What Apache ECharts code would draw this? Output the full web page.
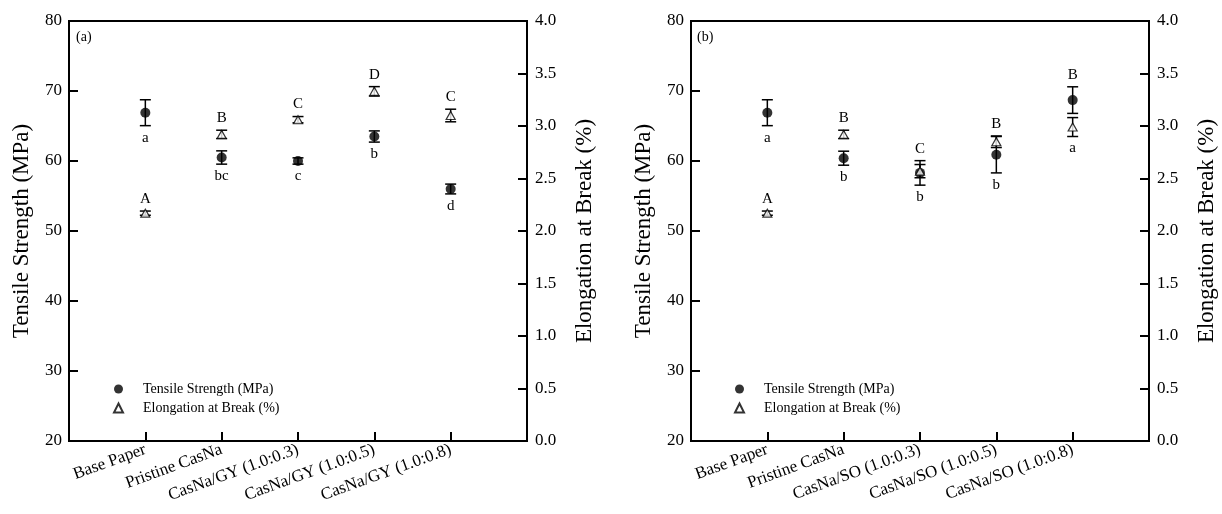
<!DOCTYPE html>
<html>
<head>
<meta charset="utf-8">
<script src="https://cdn.jsdelivr.net/npm/echarts@6/dist/echarts.min.js"></script>
<style>
  html, body { margin: 0; padding: 0; background: #fff; }
  #main { width: 1222px; height: 514px; }
</style>
</head>
<body>
<div id="main"></div>
<script>
// panel (a): guar gum
var categoriesA = ['Base Paper', 'Pristine CasNa', 'CasNa/GY (1.0:0.3)', 'CasNa/GY (1.0:0.5)', 'CasNa/GY (1.0:0.8)'];
var tsA = [66.9, 60.5, 60.0, 63.5, 56.0];
var tsErrA = [1.85, 0.95, 0.45, 0.8, 0.7];
var ebA = [2.17, 2.92, 3.06, 3.33, 3.10];
var ebErrA = [0.02, 0.04, 0.03, 0.045, 0.06];
var tsLetterA = ['a', 'bc', 'c', 'b', 'd'];
var ebLetterA = ['A', 'B', 'C', 'D', 'C'];

// panel (b): soy oil
var categoriesB = ['Base Paper', 'Pristine CasNa', 'CasNa/SO (1.0:0.3)', 'CasNa/SO (1.0:0.5)', 'CasNa/SO (1.0:0.8)'];
var tsB = [66.9, 60.4, 58.3, 60.9, 68.7];
var tsErrB = [1.85, 1.0, 1.75, 2.6, 1.9];
var ebB = [2.17, 2.92, 2.57, 2.85, 2.99];
var ebErrB = [0.02, 0.04, 0.063, 0.055, 0.09];
var tsLetterB = ['a', 'b', 'b', 'b', 'a'];
var ebLetterB = ['A', 'B', 'C', 'B', 'B'];

var TS_MIN = 20, TS_MAX = 80, EB_MIN = 0, EB_MAX = 4;
var FONT = '"Liberation Serif", "Times New Roman", serif';

var chart = echarts.init(document.getElementById('main'));

function pts(vals) {
  return vals.map(function (v, i) { return [i + 1, v]; });
}
function errPts(vals, errs) {
  return vals.map(function (v, i) { return [i + 1, v, errs[i]]; });
}

function errorBarItem(params, api) {
  var x = api.value(0), v = api.value(1), e = api.value(2);
  var hi = api.coord([x, v + e]);
  var lo = api.coord([x, v - e]);
  var w = 5.5;
  var st = { stroke: '#000', lineWidth: 1.5 };
  return {
    type: 'group',
    children: [
      { type: 'line', shape: { x1: hi[0], y1: hi[1], x2: lo[0], y2: lo[1] }, style: st },
      { type: 'line', shape: { x1: hi[0] - w, y1: hi[1], x2: hi[0] + w, y2: hi[1] }, style: st },
      { type: 'line', shape: { x1: lo[0] - w, y1: lo[1], x2: lo[0] + w, y2: lo[1] }, style: st }
    ]
  };
}

// elongation value expressed on the tensile axis, so both can be compared in pixels
function ebOnTs(eb) {
  return TS_MIN + (eb - EB_MIN) / (EB_MAX - EB_MIN) * (TS_MAX - TS_MIN);
}

function letterItem(tsLetters, ebLetters) {
  return function (params, api) {
    var i = params.dataIndex;
    var x = api.value(0);
    var tsTop = api.coord([x, api.value(1) + api.value(2)])[1];
    var tsBot = api.coord([x, api.value(1) - api.value(2)])[1];
    var ebTop = api.coord([x, ebOnTs(api.value(3) + api.value(4))])[1];
    var ebBot = api.coord([x, ebOnTs(api.value(3) - api.value(4))])[1];
    var px = api.coord([x, TS_MIN])[0];
    var upY, lowY;
    var gap = Math.max(ebTop - tsBot, tsTop - ebBot);
    if (gap >= 30) {
      upY = ebTop - 12;
      lowY = tsBot + 12;
    } else {
      upY = Math.min(tsTop, ebTop) - 12;
      lowY = Math.max(tsBot, ebBot) + 12;
    }
    var ts = { fill: '#000', font: '15px ' + FONT, textAlign: 'center', textVerticalAlign: 'middle' };
    return {
      type: 'group',
      children: [
        { type: 'text', x: px, y: upY, style: Object.assign({ text: ebLetters[i] }, ts) },
        { type: 'text', x: px, y: lowY, style: Object.assign({ text: tsLetters[i] }, ts) }
      ]
    };
  };
}

function letterData(ts, tsErr, eb, ebErr) {
  return ts.map(function (v, i) { return [i + 1, v, tsErr[i], eb[i], ebErr[i]]; });
}

var axisLine = { lineStyle: { color: '#000', width: 2 } };
var axisTick = { inside: true, length: 9, lineStyle: { color: '#000', width: 2 } };

function xAxisFor(grid, cats) {
  return {
    type: 'value', gridIndex: grid, min: 0, max: 6, interval: 1,
    axisLine: axisLine, axisTick: axisTick, splitLine: { show: false },
    axisLabel: {
      rotate: 20, margin: 8, color: '#000', fontFamily: FONT, fontSize: 17,
      formatter: function (v) { return cats[v - 1] || ''; }
    }
  };
}
function tsAxisFor(grid) {
  return {
    type: 'value', gridIndex: grid, position: 'left', min: TS_MIN, max: TS_MAX, interval: 10,
    name: 'Tensile Strength (MPa)', nameLocation: 'middle', nameRotate: 90, nameGap: 36,
    nameTextStyle: { color: '#000', fontFamily: FONT, fontSize: 23 },
    axisLine: Object.assign({ show: true }, axisLine), axisTick: axisTick, splitLine: { show: false },
    axisLabel: { color: '#000', fontFamily: FONT, fontSize: 17, margin: 7 }
  };
}
function ebAxisFor(grid) {
  return {
    type: 'value', gridIndex: grid, position: 'right', min: EB_MIN, max: EB_MAX, interval: 0.5,
    name: 'Elongation at Break (%)', nameLocation: 'middle', nameRotate: 90, nameGap: 46,
    nameTextStyle: { color: '#000', fontFamily: FONT, fontSize: 23 },
    axisLine: Object.assign({ show: true }, axisLine), axisTick: axisTick, splitLine: { show: false },
    axisLabel: { color: '#000', fontFamily: FONT, fontSize: 17, margin: 8,
      formatter: function (v) { return v.toFixed(1); } }
  };
}

var tsName = 'Tensile Strength (MPa)';
var ebName = 'Elongation at Break (%)';

function panelSeries(grid, ts, tsErr, eb, ebErr, tsLetters, ebLetters) {
  var xi = grid, yTs = grid * 2, yEb = grid * 2 + 1;
  return [
    { type: 'custom', xAxisIndex: xi, yAxisIndex: yTs, renderItem: errorBarItem,
      data: errPts(ts, tsErr), z: 2, silent: true },
    { type: 'custom', xAxisIndex: xi, yAxisIndex: yEb, renderItem: errorBarItem,
      data: errPts(eb, ebErr), z: 2, silent: true },
    { type: 'custom', xAxisIndex: xi, yAxisIndex: yTs, renderItem: letterItem(tsLetters, ebLetters),
      data: letterData(ts, tsErr, eb, ebErr), z: 2, silent: true },
    { name: tsName, type: 'scatter', xAxisIndex: xi, yAxisIndex: yTs, symbol: 'circle', symbolSize: 10,
      itemStyle: { color: '#000' }, data: pts(ts), z: 4 },
    { name: ebName, type: 'scatter', xAxisIndex: xi, yAxisIndex: yEb, symbol: 'triangle', symbolSize: [9, 8],
      itemStyle: { color: '#fff', borderColor: '#000', borderWidth: 1.2 }, data: pts(eb), z: 4 }
  ];
}

function legendFor(left) {
  return {
    data: [tsName, ebName], orient: 'vertical', left: left, top: 377,
    itemWidth: 9, itemHeight: 9, itemGap: 5, selectedMode: false,
    textStyle: { color: '#000', fontFamily: FONT, fontSize: 14, padding: [0, 0, 0, 15] }
  };
}

var option = {
  backgroundColor: '#fff',
  animation: false,
  grid: [
    { left: 69, right: 695, top: 21, bottom: 73, show: true, borderColor: '#000', borderWidth: 2 },
    { left: 691, right: 73, top: 21, bottom: 73, show: true, borderColor: '#000', borderWidth: 2 }
  ],
  xAxis: [xAxisFor(0, categoriesA), xAxisFor(1, categoriesB)],
  yAxis: [tsAxisFor(0), ebAxisFor(0), tsAxisFor(1), ebAxisFor(1)],
  legend: [legendFor(108), legendFor(729)],
  graphic: [
    { type: 'text', left: 76, top: 30, style: { text: '(a)', fill: '#000', font: '14px ' + FONT } },
    { type: 'text', left: 697, top: 30, style: { text: '(b)', fill: '#000', font: '14px ' + FONT } }
  ],
  series: [].concat(
    panelSeries(0, tsA, tsErrA, ebA, ebErrA, tsLetterA, ebLetterA),
    panelSeries(1, tsB, tsErrB, ebB, ebErrB, tsLetterB, ebLetterB)
  )
};

chart.setOption(option);
</script>
</body>
</html>
